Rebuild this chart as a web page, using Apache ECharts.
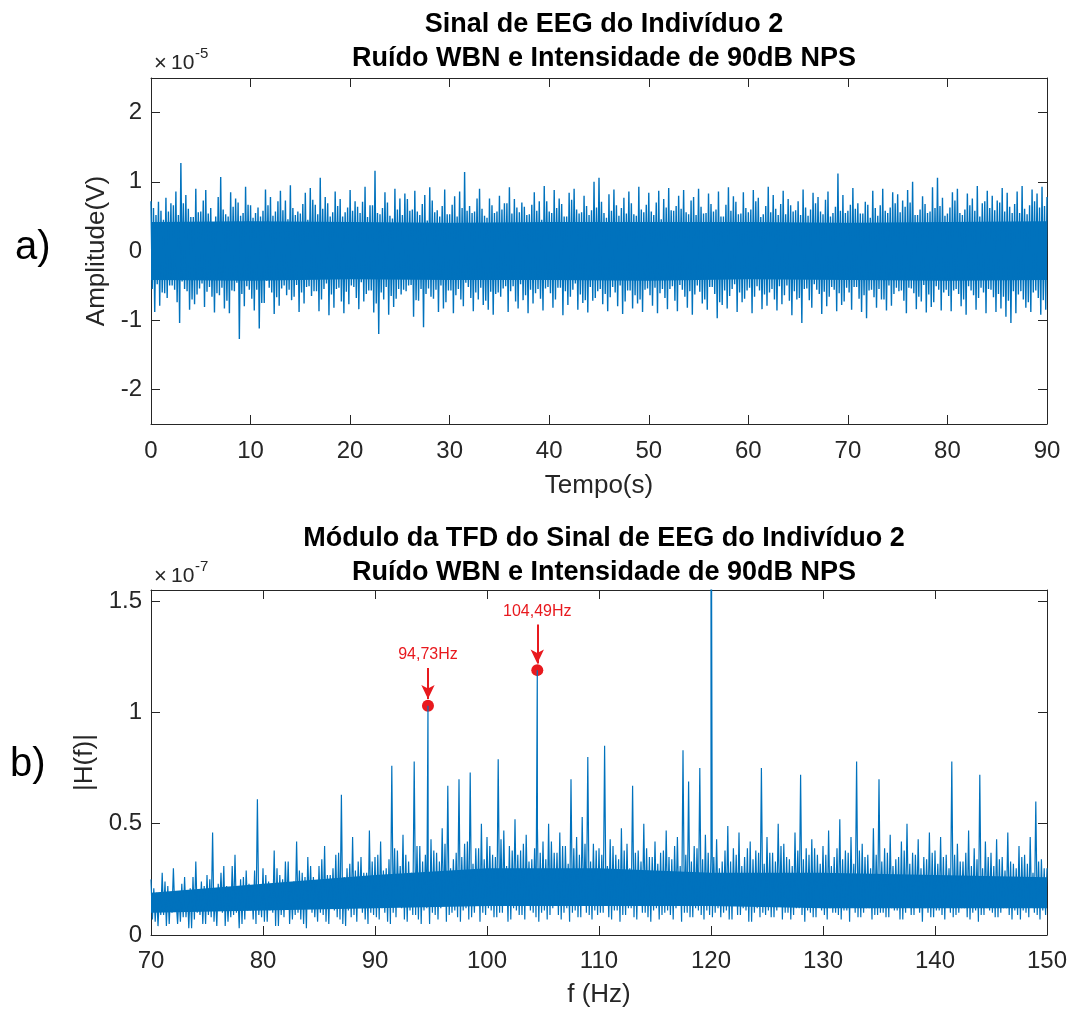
<!DOCTYPE html>
<html><head><meta charset="utf-8">
<script src="https://cdn.jsdelivr.net/npm/echarts@6/dist/echarts.min.js"></script>
<style>html,body{margin:0;padding:0;background:#fff}#c{width:1073px;height:1009px}</style>
</head><body><div id="c"></div><script>
// ---------- a) EEG signal (x1e-5 V): positive peaks / negative troughs ----------
// sigUpper at t = i*0.25 s, sigLower at t = 0.125 + i*0.25 s
const sigStep = 0.25, sigLowerOffset = 0.125;
const sigUpper = [
0.72,0.62,0.52,0.71,0.58,0.45,0.77,0.57,0.69,0.66,0.86,0.52,1.27,0.69,0.81,0.61,0.49,0.49,0.9,0.56,
0.57,0.73,0.88,0.54,0.62,0.42,0.5,0.78,1.07,0.6,0.53,0.5,0.85,0.64,0.76,0.7,0.51,0.55,0.93,0.67,
0.66,0.48,0.55,0.63,0.5,0.58,0.89,0.66,0.78,0.51,0.57,0.72,0.87,0.59,0.73,0.46,0.95,0.62,0.52,0.57,
0.54,0.68,0.84,0.45,0.91,0.74,0.67,0.53,1.06,0.61,0.78,0.69,0.5,0.56,0.86,0.65,0.75,0.5,0.56,0.63,
0.88,0.58,0.72,0.64,0.55,0.71,0.93,0.49,0.66,0.66,1.16,0.55,0.53,0.62,0.85,0.7,0.51,0.47,0.9,0.6,
0.76,0.52,0.83,0.75,0.58,0.6,0.87,0.57,0.52,0.68,0.81,0.44,0.92,0.73,0.56,0.59,0.5,0.65,0.89,0.53,
0.53,0.67,0.79,0.5,0.86,0.62,1.14,0.58,0.65,0.55,0.57,0.76,0.9,0.61,0.51,0.48,0.76,0.66,0.55,0.57,
0.8,0.6,0.69,0.69,0.92,0.54,0.75,0.63,0.56,0.7,0.64,0.52,0.53,0.67,0.85,0.58,0.72,0.45,0.94,0.72,
0.57,0.55,0.88,0.62,0.76,0.68,0.5,0.5,0.84,0.74,0.9,0.6,0.54,0.56,0.8,0.65,0.52,0.59,1.0,0.63,
1.06,0.71,0.55,0.48,0.82,0.58,0.89,0.66,0.51,0.62,0.77,0.54,0.86,0.69,0.53,0.51,0.93,0.6,0.56,0.67,
0.84,0.57,0.52,0.7,0.87,0.46,0.75,0.63,0.91,0.59,0.58,0.65,0.8,0.61,0.88,0.56,0.53,0.73,0.78,0.52,
0.9,0.64,0.54,0.55,0.83,0.68,0.57,0.6,0.86,0.5,0.5,0.67,0.92,0.58,0.79,0.71,0.53,0.54,0.85,0.62,
0.56,0.6,0.88,0.72,0.77,0.49,0.53,0.65,0.93,0.56,0.81,0.61,0.52,0.68,0.87,0.53,0.75,0.66,0.57,0.59,
0.72,0.52,0.89,0.63,0.51,0.6,0.84,0.69,0.78,0.57,0.53,0.74,0.86,0.5,0.55,0.64,1.12,0.58,0.81,0.55,
0.58,0.67,0.91,0.61,0.69,0.54,0.54,0.71,0.67,0.48,0.87,0.62,0.51,0.66,0.9,0.58,0.55,0.63,0.85,0.69,
0.82,0.56,0.73,0.64,0.88,0.7,1.0,0.52,0.52,0.6,0.79,0.68,0.55,0.57,0.92,0.62,1.06,0.65,0.77,0.51,
0.54,0.63,0.85,0.73,0.9,0.55,0.52,0.6,0.83,0.66,0.76,0.58,0.94,0.5,0.69,0.72,0.87,0.62,0.8,0.59,
0.73,0.7,0.91,0.57,0.84,0.64,0.55,0.68,0.86,0.55,0.94,0.61,0.53,0.66,0.89,0.72,0.83,0.63,0.93,0.65,
0.78
];
const sigLower = [
-0.55,-0.88,-0.48,-0.79,-0.6,-0.61,-0.68,-0.5,-0.5,-0.56,-0.74,-1.04,-0.44,-0.55,-0.58,-0.85,-0.7,-0.77,-0.63,-0.54,
-0.47,-0.81,-0.59,-0.52,-0.66,-0.89,-0.61,-0.64,-0.53,-0.83,-0.72,-0.9,-0.57,-0.58,-0.46,-1.27,-0.62,-0.8,-0.51,-0.56,
-0.69,-0.86,-0.56,-1.12,-0.75,-0.75,-0.43,-0.53,-0.6,-0.91,-0.67,-0.79,-0.54,-0.5,-0.64,-0.56,-0.71,-0.66,-0.49,-0.88,
-0.6,-0.76,-0.52,-0.51,-0.65,-0.58,-0.58,-0.87,-0.7,-0.55,-0.47,-0.93,-0.63,-0.82,-0.55,-0.53,-0.73,-0.9,-0.59,-0.77,
-0.5,-0.52,-0.68,-0.84,-0.45,-0.73,-0.62,-0.57,-0.57,-0.89,-0.76,-1.2,-0.6,-0.7,-0.52,-0.92,-0.65,-0.81,-0.69,-0.55,
-0.63,-0.56,-0.58,-0.5,-0.49,-0.95,-0.71,-0.72,-0.55,-1.1,-0.62,-0.54,-0.66,-0.69,-0.56,-0.88,-0.5,-0.83,-0.74,-0.57,
-0.57,-0.9,-0.64,-0.55,-0.7,-0.8,-0.46,-0.52,-0.68,-0.87,-0.6,-0.7,-0.53,-0.78,-0.72,-0.85,-0.59,-0.92,-0.62,-0.6,
-0.66,-0.54,-0.51,-0.88,-0.58,-0.51,-0.73,-0.83,-0.48,-0.71,-0.64,-0.9,-0.56,-0.76,-0.61,-0.55,-0.69,-0.86,-0.54,-0.52,
-0.61,-0.82,-0.7,-0.53,-0.53,-0.93,-0.58,-0.78,-0.66,-0.56,-0.47,-0.85,-0.63,-0.75,-0.71,-0.89,-0.52,-0.72,-0.68,-0.58,
-0.55,-0.77,-0.62,-0.87,-0.67,-0.52,-0.6,-0.8,-0.5,-0.91,-0.73,-0.57,-0.57,-0.83,-0.64,-0.76,-0.7,-0.88,-0.56,-0.54,
-0.64,-0.79,-0.53,-0.9,-0.61,-0.55,-0.68,-0.84,-0.55,-0.51,-0.72,-0.87,-0.49,-0.56,-0.66,-0.82,-0.58,-0.92,-0.63,-0.5,
-0.59,-0.76,-0.7,-0.85,-0.52,-0.52,-0.62,-0.97,-0.74,-0.78,-0.57,-0.83,-0.65,-0.55,-0.48,-0.88,-0.6,-0.74,-0.69,-0.57,
-0.53,-0.9,-0.66,-0.51,-0.57,-0.84,-0.63,-0.79,-0.6,-0.55,-0.7,-0.86,-0.51,-0.77,-0.64,-0.5,-0.72,-0.93,-0.58,-0.7,
-0.68,-1.04,-0.55,-0.54,-0.71,-0.82,-0.48,-0.56,-0.62,-0.91,-0.59,-0.8,-0.66,-0.52,-0.56,-0.87,-0.61,-0.78,-0.73,-0.53,
-0.6,-0.85,-0.52,-0.52,-0.69,-0.88,-0.64,-0.97,-0.57,-0.56,-0.67,-0.82,-0.55,-0.7,-0.7,-0.86,-0.5,-0.79,-0.62,-0.53,
-0.58,-0.57,-0.72,-0.9,-0.53,-0.54,-0.61,-0.84,-0.66,-0.73,-0.49,-0.89,-0.63,-0.81,-0.74,-0.51,-0.56,-0.86,-0.6,-0.56,
-0.65,-0.87,-0.57,-0.55,-0.62,-0.8,-0.7,-0.92,-0.51,-0.57,-0.64,-0.85,-0.68,-0.53,-0.6,-0.9,-0.55,-0.56,-0.67,-0.88,
-0.62,-0.83,-0.66,-0.95,-0.72,-1.04,-0.58,-0.9,-0.63,-0.58,-0.7,-0.82,-0.74,-0.88,-0.6,-0.57,-0.68,-0.92,-0.71,-0.85
];
// dense core of the signal (x1e-5 V)
const coreTime  = [0,10,20,30,40,50,60,70,80,90];
const coreHiTop = [0.42,0.43,0.42,0.41,0.42,0.42,0.42,0.41,0.42,0.43];
const coreLoTop = [-0.42,-0.43,-0.41,-0.42,-0.42,-0.43,-0.41,-0.42,-0.43,-0.42];

// ---------- b) |H(f)| (x1e-7) ----------
// specHigh at f = 70 + i*0.25 Hz, specLow at f = 70.125 + i*0.25 Hz
const specStart = 70, specStep = 0.25, specLowOffset = 0.125;
const specHigh = [
0.25,0.21,0.19,0.17,0.28,0.24,0.22,0.19,0.3,0.15,0.18,0.23,0.26,0.2,0.21,0.26,0.33,0.18,0.24,0.22,
0.27,0.25,0.46,0.19,0.23,0.28,0.31,0.22,0.2,0.31,0.36,0.2,0.25,0.26,0.29,0.23,0.22,0.29,0.61,0.21,
0.3,0.27,0.24,0.22,0.38,0.3,0.27,0.25,0.33,0.33,0.22,0.24,0.42,0.29,0.28,0.26,0.35,0.31,0.26,0.23,
0.31,0.34,0.4,0.27,0.27,0.3,0.36,0.37,0.63,0.26,0.3,0.32,0.44,0.29,0.33,0.35,0.28,0.28,0.47,0.33,
0.35,0.36,0.42,0.29,0.3,0.34,0.76,0.39,0.38,0.31,0.45,0.36,0.33,0.28,0.78,0.4,0.4,0.33,0.36,0.3,
0.43,0.38,0.37,0.33,0.48,0.41,0.67,0.3,0.34,0.37,0.7,0.35,0.41,0.42,0.73,0.32,0.39,0.39,0.5,0.34,
0.44,0.4,0.36,0.35,0.79,0.43,0.47,0.31,0.4,0.38,0.52,0.36,0.38,0.41,0.45,0.33,0.34,0.39,0.49,0.37,
0.42,0.34,0.5,0.42,0.37,0.37,0.46,0.4,0.4,0.32,0.7,0.39,0.44,0.36,0.53,0.41,0.8,0.33,0.41,0.38,
0.39,0.36,0.85,0.31,0.43,0.4,0.36,0.34,0.48,0.38,0.41,0.3,0.67,0.37,0.38,0.33,0.5,0.39,0.35,0.35,
0.42,0.32,0.37,0.38,0.47,0.35,0.34,0.4,0.44,0.31,0.83,0.36,0.69,0.33,0.4,0.39,0.75,0.34,0.45,0.37,
0.36,0.35,0.43,0.3,0.33,0.38,0.49,0.33,0.39,0.36,0.46,0.31,0.35,0.39,0.42,0.34,0.38,0.37,0.75,0.32,
0.44,0.37,0.37,0.33,0.5,0.4,0.41,0.35,0.34,0.31,0.46,0.38,0.72,0.34,0.39,0.36,0.43,0.39,0.36,0.32,
0.4,0.36,0.47,0.31,0.35,0.39,0.52,0.34,0.38,0.37,0.44,0.32,0.78,0.38,0.41,0.35,0.36,0.3,0.48,0.36,
0.7,0.33,0.39,0.37,0.45,0.31,0.34,0.35,0.42,0.38,0.5,0.32,0.37,0.36,0.43,0.3,0.35,0.34,0.46,0.37,
0.38,0.32,0.44,0.35,0.36,0.3,0.78,0.36,0.41,0.33,0.33,0.37,0.47,0.31,0.39,0.34,0.72,0.3,0.42,0.35,
0.37,0.31,0.43,0.34,0.35,0.29,0.46,0.33,0.32,0.3,0.4,0.35,0.36,0.32,0.44,0.28,0.6,0.33,0.34,0.3,
0.3
];
const specLow = [
0.07,0.06,0.04,0.09,0.09,0.04,0.05,0.1,0.11,0.05,0.06,0.08,0.08,0.03,0.03,0.07,0.1,0.09,0.05,0.05,
0.09,0.08,0.06,0.04,0.12,0.1,0.04,0.06,0.08,0.09,0.1,0.03,0.05,0.07,0.11,0.11,0.07,0.05,0.09,0.08,
0.06,0.06,0.11,0.1,0.04,0.04,0.09,0.08,0.12,0.05,0.07,0.09,0.1,0.07,0.05,0.03,0.13,0.1,0.08,0.06,
0.1,0.09,0.06,0.05,0.12,0.11,0.08,0.07,0.05,0.04,0.11,0.08,0.09,0.06,0.13,0.1,0.07,0.05,0.1,0.09,
0.08,0.07,0.12,0.1,0.06,0.05,0.1,0.08,0.13,0.12,0.07,0.06,0.11,0.09,0.09,0.07,0.05,0.11,0.12,0.05,
0.1,0.09,0.07,0.12,0.13,0.06,0.09,0.1,0.11,0.08,0.06,0.11,0.12,0.07,0.08,0.1,0.14,0.06,0.1,0.09,
0.12,0.11,0.08,0.08,0.1,0.1,0.13,0.06,0.07,0.12,0.11,0.09,0.09,0.07,0.14,0.11,0.1,0.08,0.06,0.1,
0.11,0.07,0.09,0.12,0.13,0.09,0.07,0.1,0.12,0.06,0.1,0.11,0.08,0.08,0.14,0.1,0.09,0.07,0.11,0.09,
0.1,0.1,0.13,0.08,0.07,0.11,0.11,0.06,0.09,0.09,0.12,0.12,0.08,0.07,0.14,0.1,0.1,0.08,0.06,0.11,
0.12,0.07,0.09,0.1,0.11,0.09,0.07,0.12,0.13,0.06,0.1,0.1,0.08,0.08,0.12,0.11,0.09,0.07,0.11,0.09,
0.08,0.1,0.12,0.08,0.1,0.11,0.07,0.07,0.13,0.09,0.09,0.12,0.11,0.06,0.06,0.1,0.12,0.08,0.1,0.09,
0.11,0.08,0.08,0.11,0.13,0.07,0.1,0.1,0.07,0.09,0.12,0.12,0.09,0.06,0.11,0.1,0.08,0.08,0.13,0.11,
0.09,0.07,0.12,0.1,0.1,0.09,0.07,0.11,0.11,0.06,0.13,0.1,0.08,0.08,0.1,0.12,0.12,0.07,0.09,0.09,
0.1,0.1,0.08,0.08,0.12,0.11,0.11,0.07,0.07,0.1,0.13,0.09,0.09,0.12,0.1,0.06,0.12,0.1,0.08,0.08,
0.11,0.11,0.09,0.07,0.13,0.1,0.08,0.09,0.1,0.12,0.12,0.08,0.07,0.1,0.11,0.06,0.09,0.09,0.12,0.11,
0.1,0.08,0.08,0.1,0.12,0.12,0.09,0.07,0.11,0.09,0.07,0.11,0.1,0.08,0.13,0.1,0.09,0.07,0.11,0.09
];
const peakFreq = [94.73, 104.49, 120.0];
const peakVal  = [1.03, 1.19, 2.6];
const coreFreq  = [70,80,90,100,110,120,130,140,150];
const coreLoBot = [0.10,0.11,0.12,0.13,0.13,0.13,0.12,0.12,0.12];
const coreHiBot = [0.19,0.23,0.27,0.30,0.30,0.28,0.28,0.27,0.26];
// annotations
const annFreq  = [94.73, 104.49];
const annVal   = [1.03, 1.19];
const annLabel = ['94,73Hz', '104,49Hz'];
// ticks
const topXTicks = [0,10,20,30,40,50,60,70,80,90];
const topYTicks = [-2,-1,0,1,2];
const botXTicks = [70,80,90,100,110,120,130,140,150];
const botYTicks = [0,0.5,1,1.5];

// ---------- styles ----------
const BLUE = '#0072BD', RED = '#E8191E', AX = '#262626';
const FONT = 'Liberation Sans, Arial, Helvetica, sans-serif';
const arrowLen = [0.17, 0.205], arrowGap = 0.03;

const chart = echarts.init(document.getElementById('c'), null, {renderer: 'canvas'});

function axisBase(grid, min, max, ticks, pos, showLabel, name, gap, margin) {
  return {
    type: 'value', gridIndex: grid, min: min, max: max, position: pos,
    name: name || '', nameLocation: 'middle', nameGap: gap || 0,
    nameTextStyle: {fontFamily: FONT, fontSize: 26, color: AX},
    axisLine: {show: true, onZero: false, lineStyle: {color: AX, width: 1}},
    axisTick: {show: true, inside: true, length: 9, customValues: ticks, lineStyle: {color: AX}},
    axisLabel: {show: showLabel, customValues: ticks, margin: margin, fontFamily: FONT, fontSize: 24, color: AX},
    splitLine: {show: false}
  };
}
function bandSeries(xi, yi, xs, hi, lo) {
  return {
    type: 'custom', xAxisIndex: xi, yAxisIndex: yi, silent: true, data: [0],
    renderItem: function (params, api) {
      const pts = [];
      for (let i = 0; i < xs.length; i++) pts.push(api.coord([xs[i], hi[i]]));
      for (let i = xs.length - 1; i >= 0; i--) pts.push(api.coord([xs[i], lo[i]]));
      return {type: 'polygon', shape: {points: pts}, style: {fill: BLUE}};
    }
  };
}

const sigData = sigUpper.map((v, i) => [i * sigStep, v])
  .concat(sigLower.map((v, i) => [sigLowerOffset + i * sigStep, v]))
  .sort((a, b) => a[0] - b[0]);
const specData = specHigh.map((v, i) => [specStart + i * specStep, v])
  .concat(specLow.map((v, i) => [specStart + specLowOffset + i * specStep, v]))
  .concat(peakFreq.map((f, i) => [f, peakVal[i]]))
  .sort((a, b) => a[0] - b[0]);

const titleStyle = {fontFamily: FONT, fontWeight: 'bold', fontSize: 27, lineHeight: 34, color: '#000'};
const option = {
  animation: false,
  backgroundColor: '#fff',
  title: [
    {text: 'Sinal de EEG do Indivíduo 2\nRuído WBN e Intensidade de 90dB NPS', left: 599, top: 3, textAlign: 'center', textStyle: titleStyle},
    {text: 'Módulo da TFD do Sinal de EEG do Indivíduo 2\nRuído WBN e Intensidade de 90dB NPS', left: 599, top: 517, textAlign: 'center', textStyle: titleStyle}
  ],
  grid: [
    {left: 151, top: 78, width: 896, height: 346, show: false},
    {left: 151, top: 590, width: 896, height: 347, show: false}
  ],
  xAxis: [
    axisBase(0, 0, 90, topXTicks, 'bottom', true, 'Tempo(s)', 49, 15),
    axisBase(0, 0, 90, topXTicks, 'top', false),
    axisBase(1, 70, 150, botXTicks, 'bottom', true, 'f (Hz)', 47, 14),
    axisBase(1, 70, 150, botXTicks, 'top', false)
  ],
  yAxis: [
    axisBase(0, -2.5, 2.5, topYTicks, 'left', true, 'Amplitude(V)', 29, 9),
    axisBase(0, -2.5, 2.5, topYTicks, 'right', false),
    axisBase(1, 0, 1.55, botYTicks, 'left', true, '|H(f)|', 41, 9),
    axisBase(1, 0, 1.55, botYTicks, 'right', false)
  ],
  series: [
    bandSeries(0, 0, coreTime, coreHiTop, coreLoTop),
    {type: 'line', xAxisIndex: 0, yAxisIndex: 0, symbol: 'none', silent: true, sampling: null,
     data: sigData, lineStyle: {color: BLUE, width: 1.4}},

    bandSeries(2, 2, coreFreq, coreHiBot, coreLoBot),
    {type: 'line', xAxisIndex: 2, yAxisIndex: 2, symbol: 'none', silent: true, clip: true,
     data: specData, lineStyle: {color: BLUE, width: 1.2}},

    {type: 'scatter', xAxisIndex: 2, yAxisIndex: 2, symbol: 'circle', symbolSize: 12, silent: true,
     itemStyle: {color: RED, opacity: 1},
     data: annFreq.map((f, i) => [f, annVal[i]]),
     markLine: {
       silent: true, symbol: ['none', 'arrow'], symbolSize: [10, 14],
       lineStyle: {color: RED, width: 2, type: 'solid', opacity: 1},
       label: {show: true, position: 'start', distance: 5, formatter: '{b}', color: RED, fontFamily: FONT, fontSize: 16},
       data: annFreq.map((f, i) => [
         {name: annLabel[i], coord: [f, annVal[i] + arrowLen[i]]},
         {coord: [f, annVal[i] + arrowGap]}
       ])
     }}
  ],
  graphic: [
    {type: 'text', left: 154, top: 53, style: {text: '×', font: '22px ' + FONT, fill: AX}},
    {type: 'text', left: 171, top: 53, style: {text: '10', font: '21px ' + FONT, fill: AX}},
    {type: 'text', left: 195, top: 46, style: {text: '-5', font: '15px ' + FONT, fill: AX}},
    {type: 'text', left: 154, top: 566, style: {text: '×', font: '22px ' + FONT, fill: AX}},
    {type: 'text', left: 171, top: 566, style: {text: '10', font: '21px ' + FONT, fill: AX}},
    {type: 'text', left: 195, top: 559, style: {text: '-7', font: '15px ' + FONT, fill: AX}},
    {type: 'text', left: 15, top: 228, style: {text: 'a)', font: '40px ' + FONT, fill: '#000'}},
    {type: 'text', left: 10, top: 745, style: {text: 'b)', font: '40px ' + FONT, fill: '#000'}}
  ]
};
chart.setOption(option);
</script></body></html>
